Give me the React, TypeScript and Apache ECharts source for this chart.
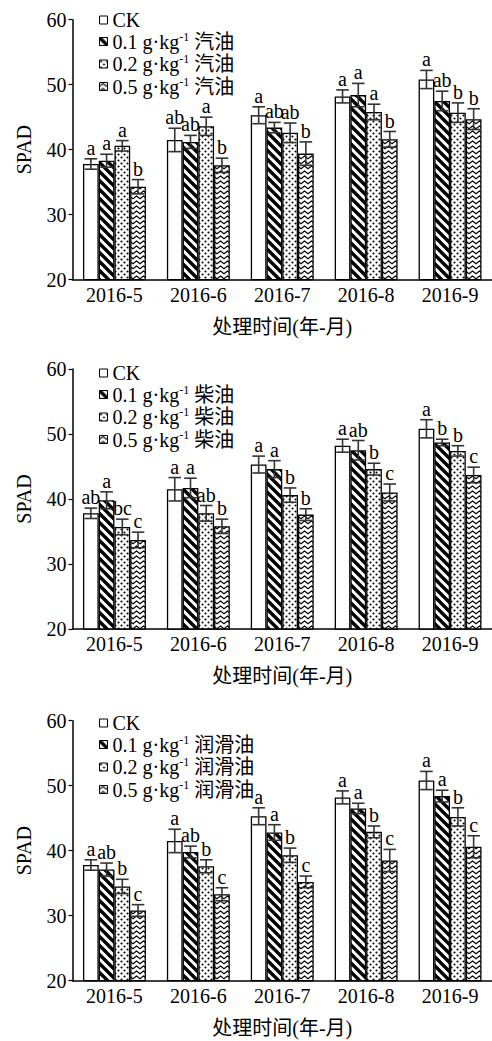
import React, { useEffect, useRef } from "react";
import * as echarts from "echarts";

const categories = ["2016-5", "2016-6", "2016-7", "2016-8", "2016-9"];
const oils = ["汽油", "柴油", "润滑油"];
const doseLabels = ["0.1", "0.2", "0.5"];

// CK (shared control)
const ckMean = [37.8, 41.5, 45.3, 48.2, 50.8];
const ckErr = [0.8, 1.8, 1.3, 1.0, 1.4];

// Panel 1: 汽油
const gas01Mean = [38.3, 41.2, 43.4, 48.4, 47.5];
const gas01Err = [1.0, 1.0, 0.8, 1.8, 1.5];
const gas02Mean = [40.6, 43.6, 42.6, 45.8, 45.7];
const gas02Err = [0.8, 1.4, 1.5, 1.2, 1.5];
const gas05Mean = [34.3, 37.6, 39.4, 41.6, 44.7];
const gas05Err = [1.1, 1.1, 1.8, 1.2, 1.6];
const gasCkLetters = ["a", "ab", "a", "a", "a"];
const gas01Letters = ["a", "ab", "ab", "a", "ab"];
const gas02Letters = ["a", "a", "ab", "a", "b"];
const gas05Letters = ["b", "b", "b", "b", "b"];

// Panel 2: 柴油
const die01Mean = [39.8, 41.7, 44.6, 47.5, 48.7];
const die01Err = [1.3, 1.5, 1.3, 1.5, 0.5];
const die02Mean = [35.7, 37.8, 40.6, 44.6, 47.4];
const die02Err = [1.2, 1.2, 1.1, 0.9, 0.8];
const die05Mean = [33.7, 35.8, 37.6, 41.0, 43.7];
const die05Err = [1.2, 1.1, 0.9, 1.3, 1.2];
const dieCkLetters = ["ab", "a", "a", "a", "a"];
const die01Letters = ["a", "a", "a", "ab", "b"];
const die02Letters = ["bc", "ab", "b", "b", "b"];
const die05Letters = ["c", "b", "b", "c", "c"];

// Panel 3: 润滑油
const lub01Mean = [37.1, 39.8, 42.8, 46.5, 48.4];
const lub01Err = [1.0, 0.9, 1.2, 0.8, 0.9];
const lub02Mean = [34.5, 37.6, 39.3, 42.9, 45.2];
const lub02Err = [1.1, 1.0, 1.1, 0.9, 1.4];
const lub05Mean = [30.8, 33.3, 35.2, 38.5, 40.6];
const lub05Err = [0.9, 1.0, 0.9, 1.7, 1.7];
const lubCkLetters = ["a", "a", "a", "a", "a"];
const lub01Letters = ["ab", "ab", "a", "a", "a"];
const lub02Letters = ["b", "b", "b", "b", "b"];
const lub05Letters = ["c", "c", "c", "c", "c"];

const FONT = "'Liberation Serif', 'Times New Roman', 'Noto Sans CJK SC', serif";

function makePattern(w: number, h: number, draw: (ctx: CanvasRenderingContext2D) => void) {
  const c = document.createElement("canvas");
  c.width = w;
  c.height = h;
  const ctx = c.getContext("2d")!;
  ctx.fillStyle = "#fff";
  ctx.fillRect(0, 0, w, h);
  draw(ctx);
  return { image: c, repeat: "repeat", imageWidth: w, imageHeight: h };
}

export default function App() {
  const ref = useRef<HTMLDivElement>(null);
  useEffect(() => {
    if (!ref.current) return;
    const chart = echarts.init(ref.current, undefined, { renderer: "svg" });

    const stripes = makePattern(9, 9, (ctx) => {
      ctx.strokeStyle = "#000";
      ctx.lineWidth = 3.4;
      for (let k = -1; k <= 1; k++) {
        ctx.beginPath();
        ctx.moveTo(-3, k * 9 - 3);
        ctx.lineTo(12, 12 + k * 9);
        ctx.stroke();
      }
    });
    const dots = makePattern(6, 6, (ctx) => {
      ctx.fillStyle = "#000";
      ctx.beginPath();
      ctx.arc(1.5, 1.5, 1.05, 0, Math.PI * 2);
      ctx.fill();
      ctx.beginPath();
      ctx.arc(4.5, 4.5, 1.05, 0, Math.PI * 2);
      ctx.fill();
    });
    const waves = makePattern(7, 5, (ctx) => {
      ctx.strokeStyle = "#000";
      ctx.lineWidth = 1.2;
      ctx.beginPath();
      ctx.moveTo(-1, 4.5);
      ctx.lineTo(3.5, 1);
      ctx.lineTo(8, 4.5);
      ctx.stroke();
    });
    const fills: any[] = ["#fff", stripes, dots, waves];

    const panels = [
      {
        oil: oils[0],
        means: [ckMean, gas01Mean, gas02Mean, gas05Mean],
        errs: [ckErr, gas01Err, gas02Err, gas05Err],
        letters: [gasCkLetters, gas01Letters, gas02Letters, gas05Letters],
        top: 19.7,
        legendTop: 10,
      },
      {
        oil: oils[1],
        means: [ckMean, die01Mean, die02Mean, die05Mean],
        errs: [ckErr, die01Err, die02Err, die05Err],
        letters: [dieCkLetters, die01Letters, die02Letters, die05Letters],
        top: 369,
        legendTop: 363,
      },
      {
        oil: oils[2],
        means: [ckMean, lub01Mean, lub02Mean, lub05Mean],
        errs: [ckErr, lub01Err, lub02Err, lub05Err],
        letters: [lubCkLetters, lub01Letters, lub02Letters, lub05Letters],
        top: 720.7,
        legendTop: 713,
      },
    ];

    const grid: any[] = [];
    const xAxis: any[] = [];
    const yAxis: any[] = [];
    const legend: any[] = [];
    const series: any[] = [];

    panels.forEach((p, pi) => {
      grid.push({ left: 72.5, right: 0, top: p.top, height: 260 });
      xAxis.push({
        type: "category",
        gridIndex: pi,
        data: categories,
        axisLine: { lineStyle: { color: "#000", width: 1.5 } },
        axisTick: { show: false },
        axisLabel: { color: "#000", fontSize: 20, fontFamily: FONT, margin: 5 },
        name: "处理时间(年-月)",
        nameLocation: "middle",
        nameGap: 37,
        nameTextStyle: { color: "#000", fontSize: 20, fontFamily: FONT },
      });
      yAxis.push({
        type: "value",
        gridIndex: pi,
        min: 20,
        max: 60,
        interval: 10,
        axisLine: { show: true, lineStyle: { color: "#000", width: 1.5 } },
        axisTick: { show: true, length: 4, lineStyle: { color: "#000", width: 1.2 } },
        splitLine: { show: false },
        axisLabel: { color: "#000", fontSize: 20, fontFamily: FONT, margin: 6 },
        name: "SPAD",
        nameLocation: "middle",
        nameGap: 39,
        nameTextStyle: { color: "#000", fontSize: 20, fontFamily: FONT },
      });

      const names = ["CK", ...doseLabels.map((d) => `${d} g·kg-1 ${p.oil}`)];
      legend.push({
        orient: "vertical",
        left: 99,
        top: p.legendTop,
        padding: 0,
        itemGap: 0.5,
        itemWidth: 8,
        itemHeight: 8,
        icon: "rect",
        data: names,
        itemStyle: { borderColor: "#000", borderWidth: 1 },
        formatter: (n: string) => n.replace("kg-1", "kg{sup|-1}"),
        textStyle: {
          color: "#000",
          fontSize: 20,
          fontFamily: FONT,
          lineHeight: 20,
          rich: {
            sup: { fontSize: 12, fontFamily: FONT, color: "#000", lineHeight: 10, padding: [0, 0, 10, 0] },
          },
        },
      });

      names.forEach((n, si) => {
        series.push({
          type: "bar",
          name: n,
          xAxisIndex: pi,
          yAxisIndex: pi,
          data: p.means[si],
          barGap: "0%",
          barCategoryGap: "25%",
          itemStyle: { color: fills[si], borderColor: "#000", borderWidth: 1.3 },
        });
      });

      const errData: number[][] = [];
      for (let s = 0; s < 4; s++) {
        for (let c = 0; c < categories.length; c++) {
          const m = p.means[s][c];
          const e = p.errs[s][c];
          errData.push([c, m + e, s, m, e]);
        }
      }
      series.push({
        type: "custom",
        xAxisIndex: pi,
        yAxisIndex: pi,
        silent: true,
        z: 5,
        data: errData,
        encode: { x: 0, y: 1 },
        renderItem: (params: any, api: any) => {
          const c = api.value(0);
          const s = api.value(2);
          const m = api.value(3);
          const e = api.value(4);
          const band = api.size([1, 0])[0];
          const barW = (band * 0.75) / 4;
          const cx = api.coord([c, m])[0] - (band * 0.75) / 2 + barW * (s + 0.5);
          const yT = api.coord([c, m + e])[1];
          const yB = api.coord([c, m - e])[1];
          const hw = barW * 0.4;
          const ls = { stroke: "#333", lineWidth: 1.6 };
          const letter = p.letters[s][c];
          return {
            type: "group",
            children: [
              { type: "line", shape: { x1: cx, y1: yT, x2: cx, y2: yB }, style: ls },
              { type: "line", shape: { x1: cx - hw, y1: yT, x2: cx + hw, y2: yT }, style: ls },
              { type: "line", shape: { x1: cx - hw, y1: yB, x2: cx + hw, y2: yB }, style: ls },
              {
                type: "text",
                x: cx,
                y: yT - 1,
                style: {
                  text: letter,
                  fill: "#000",
                  font: `20px ${FONT}`,
                  align: "center",
                  verticalAlign: "bottom",
                },
              },
            ],
          };
        },
      });
    });

    chart.setOption({
      animation: false,
      backgroundColor: "#fff",
      grid,
      xAxis,
      yAxis,
      legend,
      series,
    });
    return () => chart.dispose();
  }, []);

  return (
    <div
      ref={ref}
      style={{ position: "fixed", left: 0, top: 0, width: 492, height: 1041, background: "#fff" }}
    />
  );
}
